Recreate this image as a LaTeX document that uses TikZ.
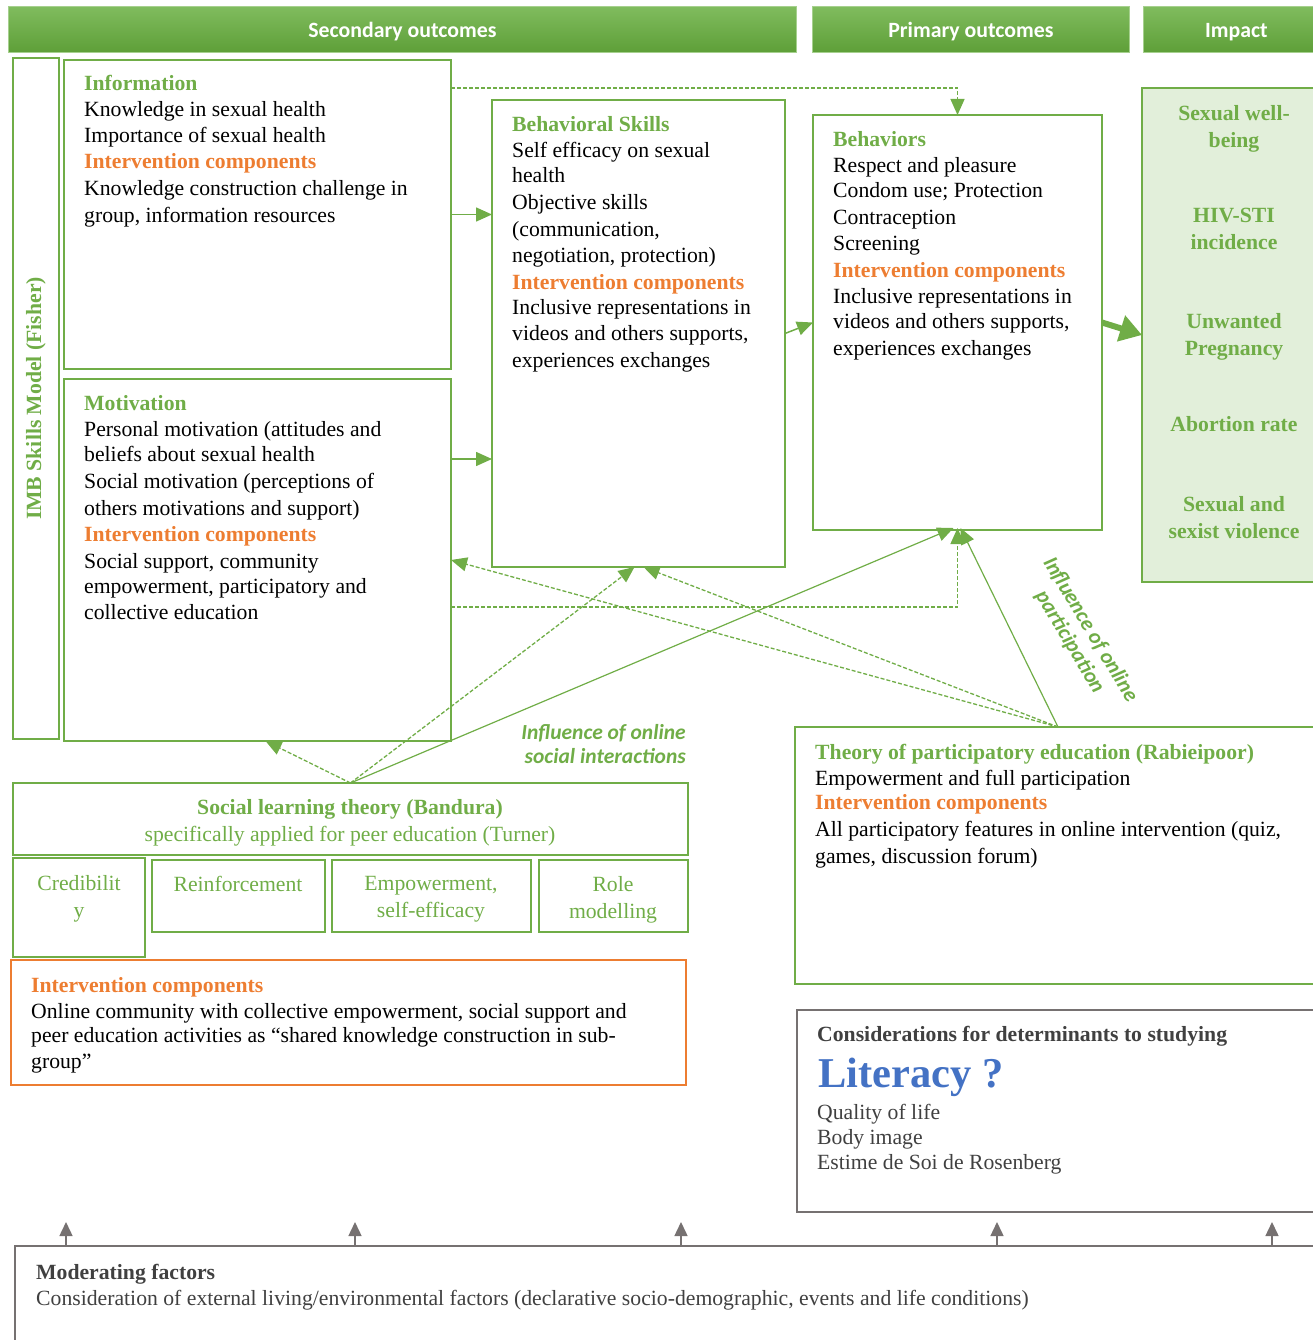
\documentclass[tikz,border=0pt]{standalone}
\usepackage{fontspec}
\setmainfont{Liberation Serif}
\newfontfamily\calfont{Carlito}
\usetikzlibrary{arrows.meta,calc}
\definecolor{G}{HTML}{70AD47}
\definecolor{O}{HTML}{ED7D31}
\definecolor{LG}{HTML}{E2EFDA}
\definecolor{HT}{HTML}{80BC5E}
\definecolor{HB}{HTML}{5E9F38}
\definecolor{GR}{HTML}{767171}
\definecolor{DT}{HTML}{404040}
\definecolor{BL}{HTML}{4472C4}
\newcommand{\ghd}[1]{\textcolor{G}{\textbf{#1}}}
\newcommand{\ohd}[1]{\textcolor{O}{\textbf{#1}}}
\newcommand{\hdrtext}[1]{\raisebox{-8pt}[0pt][0pt]{#1}}
\begin{document}
\begin{tikzpicture}[x=1pt,y=-1pt,
 box/.style={draw=G,line width=2pt,anchor=north west,inner sep=0pt,outer sep=0pt},
 graybox/.style={draw=GR,line width=2pt,anchor=north west,inner sep=0pt,outer sep=0pt},
 hdr/.style={anchor=north west,top color=HT,bottom color=HB,draw=HT!70!white,line width=0.8pt,text=white,font=\calfont\bfseries\fontsize{21.8}{24}\selectfont,inner sep=0pt},
 txt/.style={anchor=north west,align=left,inner sep=0pt,font=\fontsize{21.7}{26}\selectfont},
 ctxt/.style={anchor=north,align=center,inner sep=0pt,font=\fontsize{21.7}{27}\selectfont,text=G},
 arr/.style={draw=G,line width=1.5pt,-{Triangle[length=16pt,width=14pt]}},
 darr/.style={draw=G,line width=1.3pt,dash pattern=on 4pt off 2pt,-{Triangle[length=16pt,width=14pt]}},
 bigarr/.style={draw=G,line width=6pt,-{Triangle[length=22pt,width=26pt]}},
 grarr/.style={draw=GR,line width=1.5pt,-{Triangle[length=14pt,width=13pt]}},
 infl/.style={inner sep=0pt,text=G,font=\calfont\bfseries\itshape\fontsize{21.5}{24}\selectfont}
]
\useasboundingbox (0,0) rectangle (1312,1340);
% headers
\node[hdr,minimum width=788,minimum height=46] (h1) at (8,6) {\hdrtext{Secondary outcomes}};
\node[hdr,minimum width=317,minimum height=46] (h2) at (812,6) {\hdrtext{Primary outcomes}};
\node[hdr,minimum width=186,minimum height=46] (h3) at (1143,6) {\hdrtext{Impact}};
% IMB column
\node[box,minimum width=46,minimum height=681] (imb) at (13,58) {};
\node[rotate=90,text=G,font=\bfseries\fontsize{21.7}{24}\selectfont,inner sep=0pt] (imbl) at (imb.center) {IMB Skills Model (Fisher)};
% main boxes
\node[box,minimum width=387,minimum height=309] (info) at (64,60) {};
\node[box,minimum width=387,minimum height=362] (mot) at (64,379) {};
\node[box,minimum width=293,minimum height=467] (bs) at (492,100) {};
\node[box,minimum width=289,minimum height=415] (beh) at (813,115) {};
\node[box,fill=LG,minimum width=190,minimum height=494] (imp) at (1142,88) {};
% texts
\node[txt] (infot) at (84,75) {\ghd{Information}\\Knowledge in sexual health\\Importance of sexual health\\\ohd{Intervention components}\\[1pt]Knowledge construction challenge in\\[1pt]group, information resources};
\node[txt,font=\fontsize{21.7}{26.7}\selectfont] (mott) at (84,395) {\ghd{Motivation}\\Personal motivation (attitudes and\\[-2pt]beliefs about sexual health\\Social motivation (perceptions of\\others motivations and support)\\\ohd{Intervention components}\\Social support, community\\[-2pt]empowerment, participatory and\\collective education};
\node[txt,font=\fontsize{21.7}{26.7}\selectfont] (bst) at (512,116) {\ghd{Behavioral Skills}\\Self efficacy on sexual\\[-2pt]health\\Objective skills\\(communication,\\negotiation, protection)\\\ohd{Intervention components}\\[-2pt]Inclusive representations in\\videos and others supports,\\experiences exchanges};
\node[txt,font=\fontsize{21.7}{26.6}\selectfont] (beht) at (833,131) {\ghd{Behaviors}\\Respect and pleasure\\[-2pt]Condom use; Protection\\Contraception\\Screening\\\ohd{Intervention components}\\Inclusive representations in\\[-2pt]videos and others supports,\\experiences exchanges};
% impact items
\node[ctxt,font=\bfseries\fontsize{21.7}{27}\selectfont] (i1) at (1234,105) {Sexual well-\\being};
\node[ctxt,font=\bfseries\fontsize{21.7}{27}\selectfont] (i2) at (1234,208) {HIV-STI\\incidence};
\node[ctxt,font=\bfseries\fontsize{21.7}{27}\selectfont] (i3) at (1234,313) {Unwanted\\Pregnancy};
\node[ctxt,font=\bfseries\fontsize{21.7}{27}\selectfont] (i4) at (1234,416) {Abortion rate};
\node[ctxt,font=\bfseries\fontsize{21.7}{27}\selectfont] (i5) at (1234,496) {Sexual and\\sexist violence};
% social learning
\node[box,minimum width=675,minimum height=72] (sl) at (13,783) {};
\node[ctxt] (slt) at (350,799) {\textbf{Social learning theory (Bandura)}\\specifically applied for peer education (Turner)};
\node[box,minimum width=132,minimum height=99] (cred) at (13,858) {};
\node[box,minimum width=173,minimum height=72] (reinf) at (152,860) {};
\node[box,minimum width=199,minimum height=72] (emp) at (332,860) {};
\node[box,minimum width=149,minimum height=72] (role) at (539,860) {};
\node[ctxt] (credt) at (79,875) {Credibilit\\y};
\node[ctxt] (reinft) at (238,876) {Reinforcement};
\node[ctxt] (empt) at (431,876) {Empowerment,\\self-efficacy};
\node[ctxt] (rolet) at (613,876) {Role\\modelling};
% orange box
\node[box,draw=O,minimum width=675,minimum height=125] (ic) at (11,960) {};
\node[txt] (ict) at (31,977) {\ohd{Intervention components}\\Online community with collective empowerment, social support and\\[-2pt]peer education activities as “shared knowledge construction in sub-\\group”};
% participatory
\node[box,minimum width=526,minimum height=257] (pe) at (795,727) {};
\node[txt] (pet) at (815,744) {\ghd{Theory of participatory education (Rabieipoor)}\\Empowerment and full participation\\[-2pt]\ohd{Intervention components}\\[1pt]All participatory features in online intervention (quiz,\\[1pt]games, discussion forum)};
% considerations
\node[graybox,minimum width=530,minimum height=202] (cons) at (797,1010) {};
\node[txt,text=DT] (const) at (817,1026) {\textbf{Considerations for determinants to studying}};
\node[txt,text=BL,font=\bfseries\fontsize{42.5}{48}\selectfont] (lit) at (818,1058) {Literacy ?};
\node[txt,text=DT,font=\fontsize{21.7}{25}\selectfont] (consl) at (817,1104) {Quality of life\\Body image\\Estime de Soi de Rosenberg};
% moderating
\node[graybox,minimum width=1320,minimum height=120] (mod) at (15,1246) {};
\node[txt,text=DT] (modt) at (36,1264) {\textbf{Moderating factors}\\Consideration of external living/environmental factors (declarative socio-demographic, events and life conditions)};
\foreach \dx in {51,340,666,982,1257}{
  \draw[grarr] ([xshift=\dx pt]mod.north west) -- ++(0,-24);
}
% labels
\node[infl,align=right,anchor=north east] (lab1) at (686,724) {Influence of online\\social interactions};
\node[infl,align=center,rotate=-59] (lab2) at (1080,636) {Influence of online\\participation};
% connectors
\draw[arr] (info.east) -- (info.east -| bs.west);
\draw[arr] ([yshift=-80pt]mot.north east) coordinate (m1) -- (m1 -| bs.west);
\draw[arr] (bs.east) -- (beh.west);
\draw[bigarr] (beh.east) -- (imp.west);
\draw[darr] ([yshift=-28pt]info.north east) -| (beh.north);
\draw[darr] ([yshift=-228pt]mot.north east) -| ([yshift=2pt]beh.south);
\draw[arr,line width=1.2pt] (sl.north) -- ([xshift=-4pt,yshift=2pt]beh.south);
\draw[arr,line width=1.2pt] (pe.north) -- ([xshift=3pt,yshift=2pt]beh.south);
\draw[darr] (sl.north) -- ([xshift=8pt]mot.south);
\draw[darr] (sl.north) -- ([xshift=-4pt]bs.south);
\draw[darr] (pe.north) -- ([xshift=5pt]bs.south);
\draw[darr] (pe.north) -- (mot.east);
\end{tikzpicture}
\end{document}
